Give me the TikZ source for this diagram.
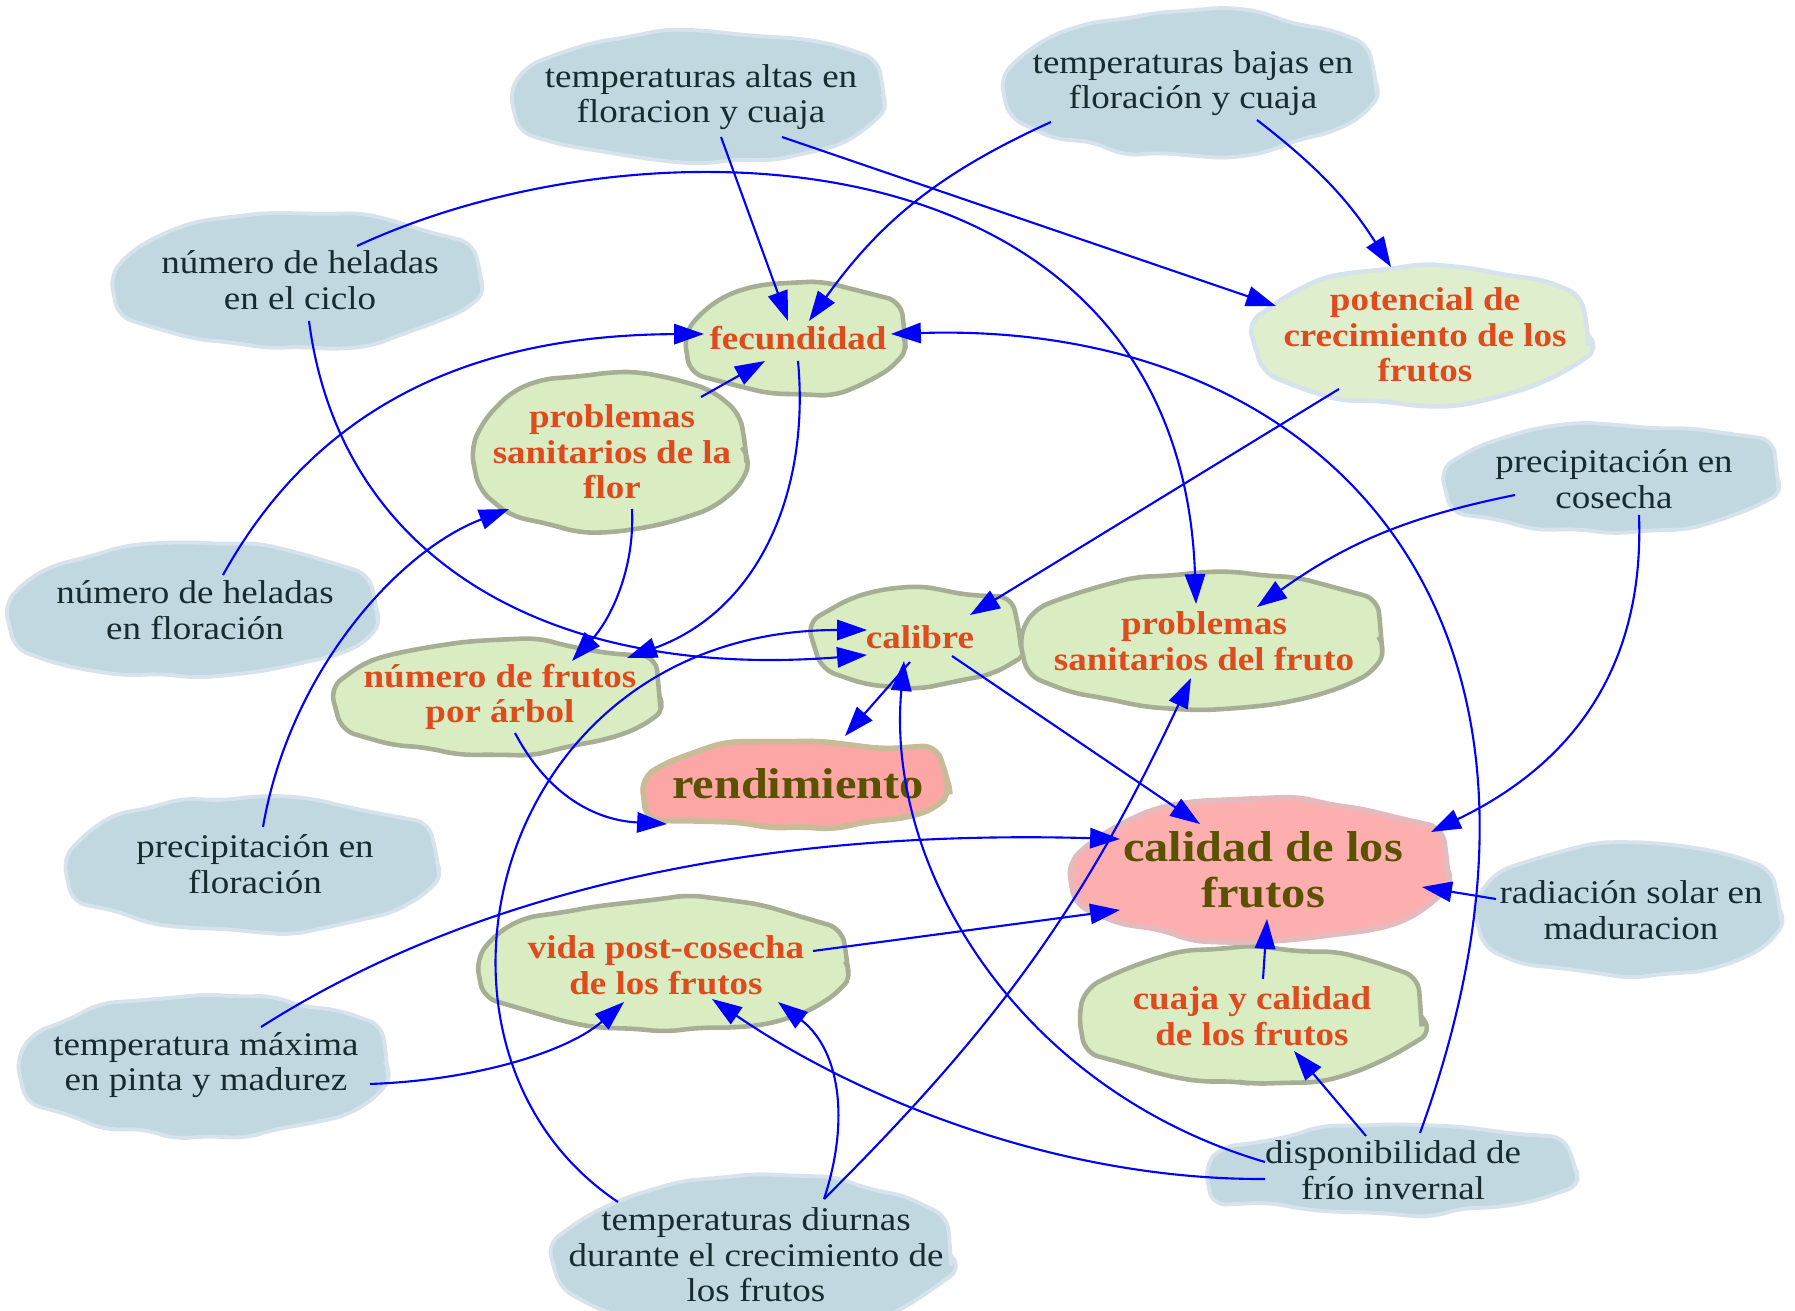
\documentclass[tikz,border=0pt]{standalone}
\usepackage{fontspec}
\setmainfont{Liberation Serif}[FakeStretch=1.12]
\usetikzlibrary{shapes.geometric,decorations.pathmorphing,arrows.meta}

\definecolor{factorFill}{RGB}{193,216,224}
\definecolor{factorLine}{RGB}{214,227,236}
\definecolor{factorText}{RGB}{24,44,48}
\definecolor{effectFill}{RGB}{217,236,194}
\definecolor{effectLine}{RGB}{166,174,148}
\definecolor{effectText}{RGB}{221,75,30}
\definecolor{potFill}{RGB}{223,238,205}
\definecolor{goalFill}{RGB}{252,166,166}
\definecolor{goalLine}{RGB}{200,188,152}
\definecolor{goalText}{RGB}{90,82,0}
\definecolor{qualFill}{RGB}{253,174,174}
\definecolor{qualLine}{RGB}{228,186,188}

\begin{document}
\begin{tikzpicture}[
  blob/.style={ellipse, inner sep=-40pt, align=center, line width=1.1pt,
    decorate, decoration={random steps, segment length=10pt, amplitude=1.1pt,
      pre length=1pt, post length=1pt},
    rounded corners=4pt},
  sz/.style 2 args={minimum width=#1cm, minimum height=#2cm},
  factorV/.style={blob, fill=factorFill, draw=factorLine, text=factorText,
    font=\fontsize{9.4}{10.1}\selectfont},
  effectV/.style={blob, fill=effectFill, draw=effectLine, line width=1.3pt, text=effectText,
    font=\fontsize{9.4}{10.1}\selectfont\bfseries},
  goalV/.style={blob, fill=goalFill, draw=goalLine, line width=1.6pt, text=goalText,
    font=\fontsize{12.3}{13.1}\selectfont\bfseries},
  e/.style={blue, line width=0.6pt, -{Triangle[length=8.5pt, width=5.8pt]}}
]
\pgfmathsetseed{7}
\useasboundingbox (0,0) rectangle (17.95,13.10);

% --- climate factors (blue) ---
\node[factorV, sz={3.66}{1.32}] (ta) at (7.01,12.13) {temperaturas altas en\\floracion y cuaja};
\node[factorV, sz={3.66}{1.43}] (tb) at (11.93,12.27) {temperaturas bajas en\\floración y cuaja};
\node[factorV, sz={3.63}{1.32}] (hc) at (3.00,10.30) {número de heladas\\en el ciclo};
\node[factorV, sz={3.27}{1.06}] (pc) at (16.14,8.31) {precipitación en\\cosecha};
\node[factorV, sz={3.64}{1.34}] (hf) at (1.95,7.00) {número de heladas\\en floración};
\node[factorV, sz={3.66}{1.34}] (pf) at (2.55,4.46) {precipitación en\\floración};
\node[factorV, sz={2.98}{1.33}] (rs) at (16.31,4.00) {radiación solar en\\maduracion};
\node[factorV, sz={3.62}{1.40}] (tm) at (2.06,2.45) {temperatura máxima\\en pinta y madurez};
\node[factorV, sz={3.66}{0.88}] (df) at (13.93,1.40) {disponibilidad de\\frío invernal};
\node[factorV, sz={3.89}{1.58}] (td) at (7.56,0.55) {temperaturas diurnas\\durante el crecimiento de\\los frutos};

% --- intermediate effects (green) ---
\node[effectV, sz={2.14}{1.09}] (fec) at (7.98,9.72) {fecundidad};
\node[effectV, sz={3.26}{1.37}, fill=potFill, draw=factorLine] (pot) at (14.25,9.75) {potencial de\\crecimiento de los\\frutos};
\node[effectV, sz={2.68}{1.57}] (psf) at (6.12,8.58) {problemas\\sanitarios de la\\flor};
\node[effectV, sz={2.00}{0.92}] (cal) at (9.20,6.73) {calibre};
\node[effectV, sz={3.55}{1.37}] (psfr) at (12.04,6.69) {problemas\\sanitarios del fruto};
\node[effectV, sz={3.19}{1.12}] (nf) at (5.00,6.13) {número de frutos\\por árbol};
\node[effectV, sz={3.63}{1.32}] (vp) at (6.66,3.45) {vida post-cosecha\\de los frutos};
\node[effectV, sz={3.38}{1.35}] (cc) at (12.52,2.94) {cuaja y calidad\\de los frutos};

% --- results (red) ---
\node[goalV, sz={3.01}{0.84}] (ren) at (7.98,5.26) {rendimiento};
\node[goalV, sz={3.69}{1.41}, fill=qualFill, draw=qualLine] (cq) at (12.63,4.40) {calidad de los\\frutos};

% --- into fecundidad ---
\draw[e] ([shift={(0.20,-0.40)}]ta.center) -- ([shift={(-0.10,0.17)}]fec.center);
\draw[e] ([shift={(-1.42,-0.39)}]tb.center) to[bend right=15] ([shift={(0.11,0.17)}]fec.center);
\draw[e] ([shift={(0.28,0.35)}]hf.center) .. controls (3.2,9.1) and (4.8,9.75) .. ([shift={(-0.94,0.04)}]fec.center);
\draw[e] ([shift={(0.89,0.55)}]psf.center) -- ([shift={(-0.33,-0.23)}]fec.center);
\draw[e] ([shift={(0.27,0.37)}]df.center) .. controls (16.1,7.0) and (13.2,9.9) .. ([shift={(0.93,0.04)}]fec.center);

% --- into potencial ---
\draw[e] ([shift={(0.81,-0.40)}]ta.center) -- ([shift={(-1.49,0.29)}]pot.center);
\draw[e] ([shift={(0.64,-0.37)}]tb.center) to[bend left=10] ([shift={(-0.34,0.68)}]pot.center);

% --- into numero de frutos / sanitarios flor ---
\draw[e] ([shift={(0,-0.23)}]fec.center) .. controls (8.1,8.2) and (7.6,7.0) .. ([shift={(1.27,0.39)}]nf.center);
\draw[e] ([shift={(0.20,-0.57)}]psf.center) .. controls (6.35,7.4) and (6.1,6.9) .. ([shift={(0.72,0.36)}]nf.center);
\draw[e] ([shift={(0.08,0.37)}]pf.center) .. controls (2.9,6.4) and (4.0,7.6) .. ([shift={(-1.03,-0.57)}]psf.center);

% --- into calibre ---
\draw[e] ([shift={(-0.86,-0.54)}]pot.center) -- ([shift={(0.50,0.22)}]cal.center);
\draw[e] ([shift={(0.09,-0.41)}]hc.center) .. controls (3.4,7.5) and (5.5,6.3) .. ([shift={(-0.53,-0.18)}]cal.center);
\draw[e] ([shift={(-1.38,0.53)}]td.center) .. controls (3.9,2.6) and (4.9,6.8) .. ([shift={(-0.53,0.07)}]cal.center);
\draw[e] ([shift={(-1.28,0.08)}]df.center) .. controls (10.2,2.2) and (8.85,4.4) .. ([shift={(-0.16,-0.24)}]cal.center);

% --- into sanitarios del fruto ---
\draw[e] ([shift={(0.57,0.34)}]hc.center) .. controls (6.5,12.0) and (11.8,11.8) .. ([shift={(-0.08,0.37)}]psfr.center);
\draw[e] ([shift={(-0.99,-0.16)}]pc.center) to[bend right=12] ([shift={(0.53,0.34)}]psfr.center);
\draw[e] ([shift={(0.68,0.56)}]td.center) to[bend right=10] ([shift={(-0.13,-0.37)}]psfr.center);

% --- into rendimiento ---
\draw[e] ([shift={(-0.10,-0.25)}]cal.center) -- ([shift={(0.47,0.48)}]ren.center);
\draw[e] ([shift={(0.15,-0.36)}]nf.center) .. controls (5.45,5.2) and (5.9,4.9) .. ([shift={(-1.31,-0.40)}]ren.center);

% --- into calidad ---
\draw[e] ([shift={(0.32,-0.19)}]cal.center) -- ([shift={(-0.63,0.46)}]cq.center);
\draw[e] ([shift={(0.25,-0.36)}]pc.center) .. controls (16.45,6.3) and (15.6,5.4) .. ([shift={(1.68,0.38)}]cq.center);
\draw[e] ([shift={(0.55,0.38)}]tm.center) .. controls (5.0,4.35) and (8.0,4.8) .. ([shift={(-1.43,0.31)}]cq.center);
\draw[e] ([shift={(1.47,0.14)}]vp.center) -- ([shift={(-1.43,-0.40)}]cq.center);
\draw[e] ([shift={(-1.35,0.11)}]rs.center) -- ([shift={(1.59,-0.17)}]cq.center);
\draw[e] ([shift={(0.11,0.37)}]cc.center) -- ([shift={(0.04,-0.49)}]cq.center);

% --- into vida post-cosecha / cuaja ---
\draw[e] ([shift={(1.64,-0.19)}]tm.center) .. controls (4.8,2.3) and (5.7,2.6) .. ([shift={(-0.42,-0.37)}]vp.center);
\draw[e] ([shift={(-1.28,-0.09)}]df.center) .. controls (10.6,1.3) and (8.6,2.1) .. ([shift={(0.46,-0.34)}]vp.center);
\draw[e] ([shift={(0.68,0.56)}]td.center) .. controls (8.5,1.9) and (8.4,2.6) .. ([shift={(1.12,-0.37)}]vp.center);
\draw[e] ([shift={(-0.27,0.34)}]df.center) -- ([shift={(0.42,-0.35)}]cc.center);

\end{tikzpicture}
\end{document}
